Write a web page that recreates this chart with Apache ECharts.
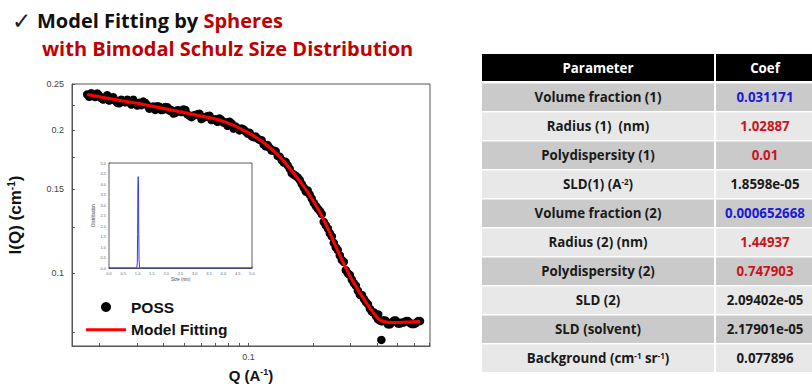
<!DOCTYPE html>
<html>
<head>
<meta charset="utf-8">
<script src="https://cdn.jsdelivr.net/npm/echarts@6/dist/echarts.min.js"></script>
<style>
  html, body { margin: 0; padding: 0; background: #fff; }
  #chart { width: 812px; height: 390px; }
</style>
</head>
<body>
<div id="chart"></div>
<script>
// Measured SAXS intensity of POSS
const possQ = [0.01755,0.01793,0.01833,0.01873,0.01914,0.01956,0.01998,0.02042,0.02086,0.02132,
  0.02178,0.02226,0.02275,0.02325,0.02375,0.02427,0.02480,0.02534,0.02590,0.02647,
  0.02704,0.02763,0.02824,0.02886,0.02949,0.03013,0.03079,0.03146,0.03215,0.03285,
  0.03357,0.03430,0.03505,0.03582,0.03660,0.03740,0.03822,0.03906,0.03991,0.04078,
  0.04167,0.04258,0.04351,0.04446,0.04544,0.04643,0.04745,0.04849,0.04954,0.05062,
  0.05173,0.05286,0.05402,0.05520,0.05641,0.05764,0.05890,0.06019,0.06150,0.06284,
  0.06422,0.06562,0.06706,0.06853,0.07002,0.07155,0.07312,0.07472,0.07635,0.07802,
  0.07972,0.08146,0.08325,0.08507,0.08693,0.08883,0.09077,0.09275,0.09478,0.09685,
  0.09897,0.1011,0.1033,0.1056,0.1079,0.1103,0.1127,0.1152,0.1177,0.1203,
  0.1229,0.1256,0.1283,0.1311,0.1340,0.1369,0.1399,0.1430,0.1461,0.1493,
  0.1525,0.1558,0.1593,0.1628,0.1663,0.1699,0.1737,0.1775,0.1813,0.1853,
  0.1893,0.1934,0.1977,0.2020,0.2065,0.2110,0.2156,0.2203,0.2251,0.2300,
  0.2351,0.2402,0.2455,0.2509,0.2563,0.2619,0.2676,0.2734,0.2795,0.2856,
  0.2918,0.2982,0.3047,0.3114,0.3182,0.3252,0.3323,0.3396,0.3470,0.3546,
  0.3623,0.3702,0.3783,0.3866,0.3950,0.4036,0.4125,0.4215,0.4307,0.4401,
  0.4498,0.4596,0.4697,0.4800,0.4904,0.5011,0.5121,0.5233,0.5347,0.5464,
  0.5583,0.5705,0.5830,0.5957,0.6088,0.6221,0.6357,0.4190,0.4050];
const possI = [0.2376,0.2349,0.2390,0.2374,0.2347,0.2388,0.2361,0.2334,0.2319,0.2338,
  0.2368,0.2307,0.2337,0.2344,0.2307,0.2281,0.2277,0.2317,0.2302,0.2287,
  0.2317,0.2290,0.2264,0.2316,0.2268,0.2253,0.2282,0.2256,0.2296,0.2281,
  0.2255,0.2218,0.2225,0.2242,0.2205,0.2244,0.2240,0.2203,0.2209,0.2237,
  0.2233,0.2197,0.2203,0.2167,0.2173,0.2201,0.2196,0.2182,0.2209,0.2205,
  0.2158,0.2144,0.2129,0.2146,0.2152,0.2158,0.2165,0.2109,0.2125,0.2131,
  0.2138,0.2144,0.2099,0.2103,0.2108,0.2081,0.2116,0.2099,0.2073,0.2077,
  0.2041,0.2083,0.2065,0.2015,0.2035,0.2016,0.1996,0.2016,0.2006,0.1986,
  0.1967,0.1974,0.1943,0.1932,0.1939,0.1918,0.1907,0.1904,0.1864,0.1848,
  0.1859,0.1834,0.1810,0.1812,0.1805,0.1764,0.1758,0.1729,0.1709,0.1714,
  0.1686,0.1658,0.1623,0.1612,0.1602,0.1589,0.1570,0.1541,0.1514,0.1485,
  0.1492,0.1463,0.1435,0.1406,0.1384,0.1367,0.1351,0.1331,0.1281,0.1261,
  0.1241,0.1214,0.1194,0.1157,0.1132,0.1118,0.1089,0.1066,0.1055,0.1014,
  0.0999,0.0991,0.0969,0.0952,0.0941,0.0918,0.0900,0.0899,0.0882,0.0869,
  0.0860,0.0841,0.0829,0.0826,0.0812,0.0800,0.0794,0.0791,0.0795,0.0793,
  0.0780,0.0780,0.0787,0.0794,0.0794,0.0783,0.0783,0.0787,0.0787,0.0792,
  0.0792,0.0785,0.0781,0.0781,0.0785,0.0792,0.0792,0.0723,0.0818];

// Spheres with bimodal Schulz distribution: fitted curve
const fitQ = [0.01755,0.01998,0.02479,0.03309,0.04744,0.06776,0.08143,0.09754,0.1163,0.1398,
  0.1675,0.1813,0.1977,0.2156,0.2351,0.2563,0.2795,0.3047,0.3323,0.3623,
  0.3950,0.4167,0.4396,0.4697,0.5121,0.5698,0.6351];
const fitI = [0.2376,0.2350,0.2310,0.2258,0.2186,0.2117,0.2064,0.1984,0.1890,0.1758,
  0.1595,0.1521,0.1435,0.1344,0.1241,0.1137,0.1045,0.0969,0.0908,0.0856,
  0.0812,0.0794,0.0789,0.0787,0.0787,0.0789,0.0791];

// Size distribution shown in the inset
const distSize = [0, 0.5, 0.9, 0.97, 0.99, 1.0, 1.01, 1.02, 1.03, 1.04, 1.05, 1.07, 1.1, 1.5, 2.0, 3.0, 4.0, 5.0];
const distValue = [0, 0, 0, 0, 0.25, 1.6, 3.9, 4.35, 4.05, 1.8, 0.4, 0.02, 0, 0, 0, 0, 0, 0];

// Axis ticks and labels
const qTicks = [0.02,0.03,0.04,0.05,0.06,0.07,0.08,0.09,0.1,0.2,0.3,0.4,0.5,0.6,0.7];
const qLabels = [0.1];
const iTicks = [0.075,0.1,0.125,0.15,0.175,0.2,0.225,0.25];
const iLabels = [0.1,0.15,0.2,0.25];

// Fit parameters
const paramNames = ['Volume fraction (1)','Radius (1)  (nm)','Polydispersity (1)','SLD(1) (A{s|-2})',
  'Volume fraction (2)','Radius (2) (nm)','Polydispersity (2)','SLD (2)','SLD (solvent)',
  'Background (cm{s|-1} sr{s|-1})'];
const paramValues = ['0.031171','1.02887','0.01','1.8598e-05','0.000652668','1.44937','0.747903',
  '2.09402e-05','2.17901e-05','0.077896'];

const chart = echarts.init(document.getElementById('chart'), null, { renderer: 'svg' });

const AXIS_FONT = 'Liberation Sans, Arial, sans-serif';
const TITLE_FONT = 'Open Sans, sans-serif';
const RED = '#c00000';
const TABLE_SIZE = 13.3;

function valueColor(name) {
  if (/^Volume fraction/.test(name)) return '#1a1ad8';
  if (/^(Radius|Polydispersity)/.test(name)) return '#c8141e';
  return '#1a1a1a';
}

// Parameter table
const table = [];
const tX = 482, tW1 = 232, tX2 = 716, tW2 = 100, headTop = 54, headH = 27;
const rowTop = 83.5, rowPitch = 29, rowH = 27.5;
const col1C = tX + tW1 / 2, col2C = tX2 + 49;
table.push({ type: 'rect', shape: { x: tX, y: headTop, width: tW1, height: headH }, style: { fill: '#000' } });
table.push({ type: 'rect', shape: { x: tX2, y: headTop, width: tW2, height: headH }, style: { fill: '#000' } });
table.push({ type: 'text', x: col1C, y: headTop + headH / 2, style: { text: 'Parameter', fill: '#fff', fontFamily: TITLE_FONT, fontWeight: 'bold', fontSize: TABLE_SIZE, align: 'center', verticalAlign: 'middle' } });
table.push({ type: 'text', x: col2C, y: headTop + headH / 2, style: { text: 'Coef', fill: '#fff', fontFamily: TITLE_FONT, fontWeight: 'bold', fontSize: TABLE_SIZE, align: 'center', verticalAlign: 'middle' } });
paramNames.forEach((name, i) => {
  const y = rowTop + i * rowPitch;
  const fill = i % 2 === 0 ? '#cacaca' : '#e8e8e8';
  table.push({ type: 'rect', shape: { x: tX, y: y, width: tW1, height: rowH }, style: { fill } });
  table.push({ type: 'rect', shape: { x: tX2, y: y, width: tW2, height: rowH }, style: { fill } });
  table.push({ type: 'text', x: col1C, y: y + rowH / 2, style: {
    text: name, fill: '#1a1a1a', fontFamily: TITLE_FONT, fontWeight: 'bold', fontSize: TABLE_SIZE,
    align: 'center', verticalAlign: 'middle',
    rich: { s: { fontSize: 8, fontWeight: 'bold', fontFamily: TITLE_FONT, fill: '#1a1a1a', verticalAlign: 'top', lineHeight: 8 } }
  } });
  table.push({ type: 'text', x: col2C, y: y + rowH / 2, style: {
    text: paramValues[i], fill: valueColor(name), fontFamily: TITLE_FONT, fontWeight: 'bold', fontSize: TABLE_SIZE,
    align: 'center', verticalAlign: 'middle'
  } });
});

const option = {
  animation: false,
  backgroundColor: '#fff',
  title: [
    { text: '\u2713', left: 7, top: 4, textStyle: { fontFamily: 'DejaVu Sans', fontSize: 23, fontWeight: 'normal', color: '#222' } },
    { text: '{b|Model Fitting by }{r|Spheres}', left: 32, top: 5,
      textStyle: { rich: {
        b: { fontFamily: TITLE_FONT, fontWeight: 'bold', fontSize: 20, color: '#111' },
        r: { fontFamily: TITLE_FONT, fontWeight: 'bold', fontSize: 20, color: RED }
      } } },
    { text: 'with Bimodal Schulz Size Distribution', left: 37, top: 33,
      textStyle: { fontFamily: TITLE_FONT, fontWeight: 'bold', fontSize: 20, color: RED } }
  ],
  legend: [
    { data: [{ name: 'POSS', icon: 'circle' }, { name: 'Model Fitting', icon: 'path://M0,0H40V3H0Z' }],
      orient: 'vertical', left: 86, top: 299, padding: 0, itemWidth: 40, itemHeight: 10, itemGap: 6.7,
      textStyle: { fontFamily: AXIS_FONT, fontWeight: 'bold', fontSize: 15.5, color: '#111', lineHeight: 14 } },
    { data: ['Bimodal Schulz Size Distribution'], left: 152, top: 171, padding: 0, itemWidth: 8, itemHeight: 3, itemGap: 2,
      textStyle: { fontFamily: AXIS_FONT, fontSize: 4.5, color: '#333' } }
  ],
  grid: [
    { left: 72, right: 382, top: 84, bottom: 44, show: true, borderColor: '#555', borderWidth: 1 },
    { left: 109, top: 163, width: 143, height: 105, show: true, borderColor: '#333', borderWidth: 0.8, backgroundColor: '#fff', z: 5 }
  ],
  xAxis: [
    { type: 'log', gridIndex: 0, min: 0.0149, max: 0.708,
      name: '{t|Q (A}{s|-1}{t|)}', nameLocation: 'middle', nameGap: 21,
      nameTextStyle: { rich: {
        t: { fontFamily: AXIS_FONT, fontWeight: 'bold', fontSize: 15, color: '#111', lineHeight: 17 },
        s: { fontFamily: AXIS_FONT, fontWeight: 'bold', fontSize: 9, color: '#111', verticalAlign: 'top', lineHeight: 17 }
      } },
      axisLine: { lineStyle: { color: '#555', width: 1 } },
      axisTick: { inside: true, length: 3, customValues: qTicks, lineStyle: { color: '#555' } },
      axisLabel: { customValues: qLabels, fontFamily: AXIS_FONT, fontSize: 9, color: '#444', margin: 6, formatter: v => String(v) },
      splitLine: { show: false }, minorTick: { show: false } },
    { type: 'value', gridIndex: 1, min: 0, max: 5, interval: 0.5,
      name: 'Size (nm)', nameLocation: 'middle', nameGap: 9,
      nameTextStyle: { fontFamily: AXIS_FONT, fontSize: 4.5, color: '#444' },
      axisLine: { lineStyle: { color: '#333', width: 0.8 } },
      axisTick: { inside: true, length: 1.5, lineStyle: { color: '#333', width: 0.5 } },
      axisLabel: { fontFamily: AXIS_FONT, fontSize: 4, color: '#666', margin: 3, formatter: v => v.toFixed(1) },
      splitLine: { show: false } }
  ],
  yAxis: [
    { type: 'log', gridIndex: 0, min: 0.0702, max: 0.25,
      name: '{t|I(Q) (cm}{s|-1}{t|)}', nameLocation: 'middle', nameRotate: 90, nameGap: 47,
      nameTextStyle: { rich: {
        t: { fontFamily: AXIS_FONT, fontWeight: 'bold', fontSize: 17, color: '#111', lineHeight: 19 },
        s: { fontFamily: AXIS_FONT, fontWeight: 'bold', fontSize: 10, color: '#111', verticalAlign: 'top', lineHeight: 19 }
      } },
      axisLine: { lineStyle: { color: '#555', width: 1 } },
      axisTick: { inside: true, length: 3, customValues: iTicks, lineStyle: { color: '#555' } },
      axisLabel: { customValues: iLabels, fontFamily: AXIS_FONT, fontSize: 9, color: '#444', margin: 8, formatter: v => String(v) },
      splitLine: { show: false }, minorTick: { show: false } },
    { type: 'value', gridIndex: 1, min: 0, max: 5, interval: 0.5,
      name: 'Distribution', nameLocation: 'middle', nameRotate: 90, nameGap: 13,
      nameTextStyle: { fontFamily: AXIS_FONT, fontSize: 4.5, color: '#444' },
      axisLine: { lineStyle: { color: '#333', width: 0.8 } },
      axisTick: { inside: true, length: 1.5, lineStyle: { color: '#333', width: 0.5 } },
      axisLabel: { fontFamily: AXIS_FONT, fontSize: 4, color: '#666', margin: 3, formatter: v => v.toFixed(1) },
      splitLine: { show: false } }
  ],
  series: [
    { name: 'POSS', type: 'scatter', xAxisIndex: 0, yAxisIndex: 0,
      data: possQ.map((q, i) => [q, possI[i]]),
      symbol: 'circle', symbolSize: 8.5, itemStyle: { color: '#000', opacity: 1 }, z: 2 },
    { name: 'Model Fitting', type: 'line', xAxisIndex: 0, yAxisIndex: 0,
      data: fitQ.map((q, i) => [q, fitI[i]]),
      symbol: 'none', smooth: 0.3, lineStyle: { color: '#ff0000', width: 3 }, itemStyle: { color: '#ff0000' }, z: 3 },
    { name: 'Bimodal Schulz Size Distribution', type: 'line', xAxisIndex: 1, yAxisIndex: 1,
      data: distSize.map((s, i) => [s, distValue[i]]),
      symbol: 'none', lineStyle: { color: '#3a3ae6', width: 1 }, itemStyle: { color: '#3a3ae6' }, z: 6 }
  ],
  graphic: table
};

chart.setOption(option);
</script>
</body>
</html>
